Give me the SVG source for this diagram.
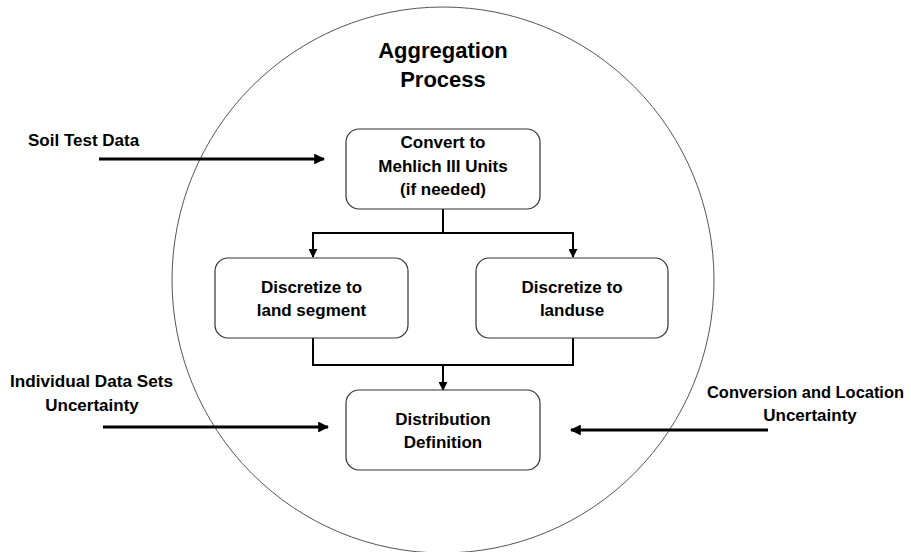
<svg xmlns="http://www.w3.org/2000/svg" width="911" height="552" viewBox="0 0 911 552">
  <style>
    text { font-family: "Liberation Sans", Arial, sans-serif; font-weight: bold; fill: #000; }
    .lbl { font-size: 17px; }
    .title { font-size: 22px; text-anchor: middle; }
    .mid { text-anchor: middle; }
    .box { fill: #fff; stroke: #333; stroke-width: 1.2; }
    .wire { fill: none; stroke: #000; stroke-width: 2; }
    .thick { fill: none; stroke: #000; stroke-width: 3.2; }
  </style>
  <defs>
    <marker id="tip" viewBox="0 0 10 10" refX="9" refY="5" markerWidth="4.5" markerHeight="4.5" markerUnits="strokeWidth" orient="auto">
      <path d="M0,0 L10,5 L0,10 z" fill="#000"/>
    </marker>
    <marker id="tipBig" viewBox="0 0 10 10" refX="9" refY="5" markerWidth="3.4" markerHeight="3.4" markerUnits="strokeWidth" orient="auto">
      <path d="M0,0 L10,5 L0,10 z" fill="#000"/>
    </marker>
  </defs>

  <rect width="911" height="552" fill="#fff"/>

  <!-- process boundary -->
  <g id="boundary">
    <ellipse cx="443" cy="280" rx="271" ry="273" fill="none" stroke="#555" stroke-width="1"/>
    <text class="title" x="443" y="58">Aggregation</text>
    <text class="title" x="443" y="87">Process</text>
  </g>

  <!-- connectors -->
  <g id="connectors">
    <path class="wire" d="M443,209 V233 M313,233 H573"/>
    <path class="wire" d="M313,232 V257" marker-end="url(#tip)"/>
    <path class="wire" d="M573,232 V257" marker-end="url(#tip)"/>
    <path class="wire" d="M313,338 V365 H573 V338"/>
    <path class="wire" d="M443,364 V390" marker-end="url(#tip)"/>
    <path class="thick" d="M99,159 H324" marker-end="url(#tipBig)"/>
    <path class="thick" d="M103,427 H328" marker-end="url(#tipBig)"/>
    <path class="thick" d="M768,430 H571" marker-end="url(#tipBig)"/>
  </g>

  <!-- external inputs -->
  <g id="soil-test-data">
    <text class="lbl" x="28" y="146">Soil Test Data</text>
  </g>
  <g id="individual-uncertainty">
    <text class="lbl" x="10" y="387" textLength="163" lengthAdjust="spacingAndGlyphs">Individual Data Sets</text>
    <text class="lbl mid" x="92" y="411">Uncertainty</text>
  </g>
  <g id="conversion-uncertainty">
    <text class="lbl" x="707" y="398" textLength="197" lengthAdjust="spacingAndGlyphs">Conversion and Location</text>
    <text class="lbl mid" x="810" y="421">Uncertainty</text>
  </g>

  <!-- process steps -->
  <g id="convert">
    <rect class="box" x="346" y="129" width="194" height="80" rx="13"/>
    <text class="lbl mid" x="443" y="148">Convert to</text>
    <text class="lbl mid" x="443" y="172">Mehlich III Units</text>
    <text class="lbl mid" x="443" y="195">(if needed)</text>
  </g>
  <g id="discretize-segment">
    <rect class="box" x="215" y="258" width="193" height="80" rx="13"/>
    <text class="lbl mid" x="311.5" y="293">Discretize to</text>
    <text class="lbl mid" x="311.5" y="316">land segment</text>
  </g>
  <g id="discretize-landuse">
    <rect class="box" x="476" y="258" width="192" height="80" rx="13"/>
    <text class="lbl mid" x="572" y="293">Discretize to</text>
    <text class="lbl mid" x="572" y="316">landuse</text>
  </g>
  <g id="distribution">
    <rect class="box" x="346" y="390" width="194" height="80" rx="13"/>
    <text class="lbl mid" x="443" y="425">Distribution</text>
    <text class="lbl mid" x="443" y="448">Definition</text>
  </g>
</svg>
